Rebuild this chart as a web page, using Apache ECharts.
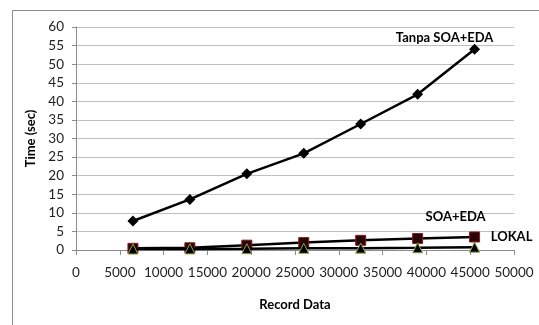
<!DOCTYPE html>
<html><head><meta charset="utf-8">
<script src="https://cdn.jsdelivr.net/npm/echarts@6/dist/echarts.min.js"></script>
<style>html,body{margin:0;padding:0;background:#fff;}#c{width:539px;height:325px;}</style>
</head><body><div id="c"></div>
<script>
var records = [6500, 13000, 19500, 26000, 32500, 39000, 45500];
var tanpaSoaEda = [7.8, 13.6, 20.5, 26.0, 33.9, 41.9, 54.0];
var soaEda = [0.45, 0.6, 1.3, 2.0, 2.6, 3.1, 3.5];
var lokal = [0.25, 0.3, 0.35, 0.45, 0.5, 0.6, 0.75];
var seriesNames = ['Tanpa SOA+EDA', 'SOA+EDA', 'LOKAL'];

function pairs(vals){ return vals.map(function(v,i){ return [records[i], v]; }); }
var font = 'Lato, "Open Sans", sans-serif';
function lastLabel(vals, text, off){
  return pairs(vals).map(function(p,i){
    if(i === vals.length-1){
      return {value:p, label:{show:true, formatter:text, position:'inside', offset:off,
        color:'#000', fontFamily:font, fontSize:13, fontWeight:'bold'}};
    }
    return p;
  });
}
var chart = echarts.init(document.getElementById('c'));
chart.setOption({
  animation:false,
  backgroundColor:'#fff',
  graphic:[{type:'rect', shape:{x:12.5, y:10.5, width:700, height:500},
    style:{fill:'none', stroke:'#8c8c8c', lineWidth:1}, z:-10}],
  grid:{left:76, right:25, top:27, bottom:75},
  xAxis:{type:'value', min:0, max:50000, interval:5000,
    name:'Record Data', nameLocation:'middle', nameGap:48,
    nameTextStyle:{fontFamily:font, fontSize:13, fontWeight:'bold', color:'#000'},
    axisLine:{show:true, lineStyle:{color:'#8c8c8c'}},
    axisTick:{show:true, length:5, lineStyle:{color:'#8c8c8c'}},
    axisLabel:{fontFamily:font, fontSize:13.5, color:'#222', margin:16,
      formatter:function(v){ return String(v); }},
    splitLine:{show:false}},
  yAxis:{type:'value', min:0, max:60, interval:5,
    name:'Time (sec)', nameLocation:'middle', nameGap:37, nameRotate:90,
    nameTextStyle:{fontFamily:font, fontSize:13, fontWeight:'bold', color:'#000'},
    axisLine:{show:true, lineStyle:{color:'#8c8c8c'}},
    axisTick:{show:true, length:4, lineStyle:{color:'#8c8c8c'}},
    axisLabel:{fontFamily:font, fontSize:13.5, color:'#222', margin:12},
    splitLine:{show:true, lineStyle:{color:'#bfbfbf', width:1}}},
  series:[
    {name:seriesNames[0], type:'line', data:lastLabel(tanpaSoaEda, seriesNames[0], [-30,-11]),
      symbol:'diamond', symbolSize:11, lineStyle:{color:'#000', width:2.5},
      itemStyle:{color:'#000'}, z:3},
    {name:seriesNames[1], type:'line', data:lastLabel(soaEda, seriesNames[1], [-19,-20]),
      symbol:'rect', symbolSize:10, lineStyle:{color:'#000', width:2.5},
      itemStyle:{color:'#2a0508', borderColor:'#8b1a1a', borderWidth:1}, z:4},
    {name:seriesNames[2], type:'line', data:lastLabel(lokal, seriesNames[2], [37,-10]),
      symbol:'triangle', symbolSize:10, lineStyle:{color:'#000', width:2.5},
      itemStyle:{color:'#000', borderColor:'#8fa84a', borderWidth:1}, z:5}
  ]
});
</script></body></html>
